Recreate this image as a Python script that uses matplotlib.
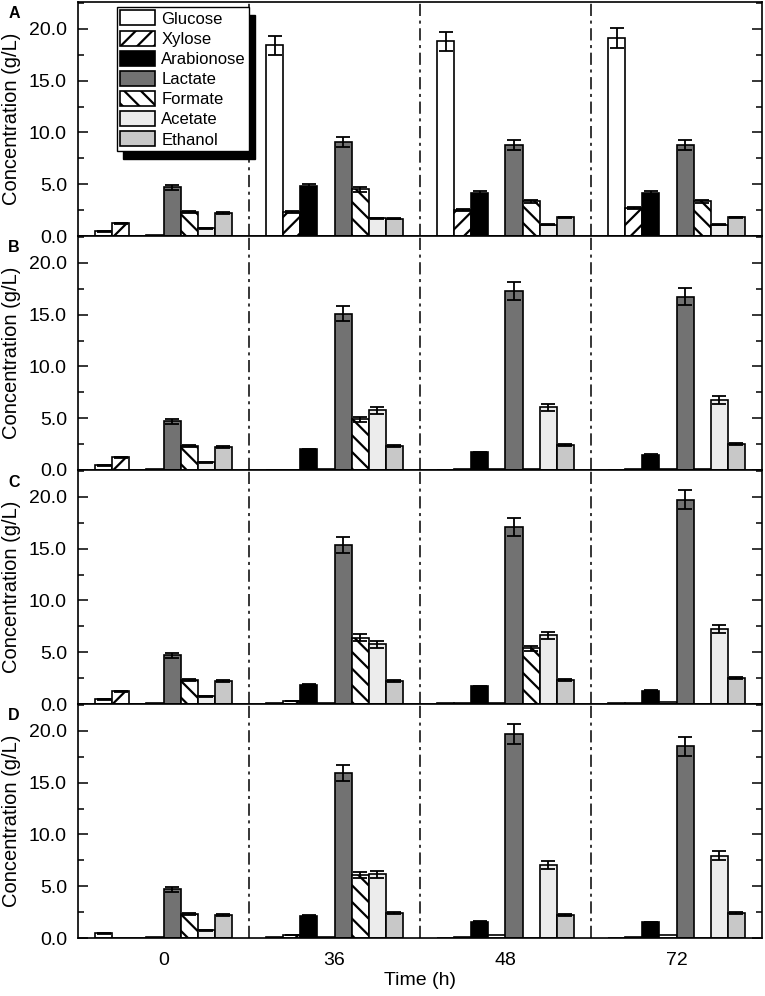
import numpy as np
import matplotlib
matplotlib.use("Agg")
import matplotlib.pyplot as plt
from matplotlib.ticker import MultipleLocator, FormatStrFormatter

plt.rcParams['font.family'] = ['Liberation Sans', 'DejaVu Sans']
plt.rcParams['hatch.linewidth'] = 1.6

# time points (h) and panel letters
times = ['0', '36', '48', '72']
panels = ['A', 'B', 'C', 'D']

# concentrations (g/L), one row per panel A..D, columns = time points
glucose = [[0.45, 18.4, 18.8, 19.1],
           [0.45, 0.0, 0.03, 0.0],
           [0.45, 0.12, 0.05, 0.05],
           [0.45, 0.05, 0.0, 0.0]]
glucose_err = [[0.03, 0.9, 0.9, 0.95], [0.03, 0, 0, 0], [0.03, 0, 0, 0], [0.03, 0, 0, 0]]

xylose = [[1.25, 2.35, 2.5, 2.7],
          [1.25, 0.0, 0.05, 0.05],
          [1.25, 0.3, 0.05, 0.05],
          [0.0, 0.3, 0.05, 0.05]]
xylose_err = [[0.05, 0.1, 0.1, 0.1], [0.05, 0, 0, 0], [0.05, 0.03, 0, 0], [0, 0.03, 0, 0]]

arabinose = [[0.0, 4.85, 4.15, 4.15],
             [0.0, 2.0, 1.7, 1.45],
             [0.0, 1.85, 1.7, 1.3],
             [0.0, 2.15, 1.55, 1.5]]
arabinose_err = [[0, 0.15, 0.15, 0.15], [0, 0.05, 0.05, 0.05], [0, 0.05, 0.05, 0.05], [0, 0.05, 0.05, 0.05]]

# unlabelled series drawn between arabinose and lactate
other = [[0.05, 0.0, 0.0, 0.0],
         [0.05, 0.05, 0.1, 0.1],
         [0.05, 0.1, 0.1, 0.15],
         [0.05, 0.1, 0.25, 0.25]]

lactate = [[4.7, 9.05, 8.8, 8.8],
           [4.7, 15.1, 17.3, 16.75],
           [4.7, 15.35, 17.1, 19.75],
           [4.7, 15.95, 19.7, 18.5]]
lactate_err = [[0.25, 0.5, 0.45, 0.45],
               [0.25, 0.75, 0.9, 0.85],
               [0.25, 0.8, 0.85, 0.95],
               [0.25, 0.8, 1.0, 0.95]]

formate = [[2.3, 4.5, 3.35, 3.35],
           [2.3, 4.9, 0.05, 0.05],
           [2.3, 6.4, 5.4, 0.0],
           [2.3, 6.1, 0.0, 0.0]]
formate_err = [[0.1, 0.25, 0.15, 0.15],
               [0.1, 0.25, 0, 0],
               [0.1, 0.35, 0.25, 0],
               [0.1, 0.32, 0, 0]]

acetate = [[0.75, 1.7, 1.1, 1.1],
           [0.75, 5.75, 6.05, 6.8],
           [0.75, 5.75, 6.65, 7.25],
           [0.75, 6.15, 7.05, 7.95]]
acetate_err = [[0.05, 0.05, 0.05, 0.05],
               [0.05, 0.3, 0.35, 0.38],
               [0.05, 0.3, 0.35, 0.37],
               [0.05, 0.32, 0.35, 0.43]]

ethanol = [[2.2, 1.65, 1.8, 1.8],
           [2.2, 2.3, 2.4, 2.55],
           [2.2, 2.25, 2.3, 2.55],
           [2.2, 2.4, 2.2, 2.4]]
ethanol_err = [[0.1, 0.05, 0.08, 0.08],
               [0.1, 0.1, 0.1, 0.1],
               [0.1, 0.1, 0.1, 0.1],
               [0.1, 0.1, 0.1, 0.1]]

# (label, values, errors, facecolor, hatch, slot)
series = [
    ("Glucose", glucose, glucose_err, "white", None, 0),
    ("Xylose", xylose, xylose_err, "white", "//", 1),
    ("Arabionose", arabinose, arabinose_err, "black", None, 2),
    (None, other, None, "white", None, 3),
    ("Lactate", lactate, lactate_err, "#727272", None, 4),
    ("Formate", formate, formate_err, "white", "\\\\", 5),
    ("Acetate", acetate, acetate_err, "#ececec", None, 6),
    ("Ethanol", ethanol, ethanol_err, "#c8c8c8", None, 7),
]

fig = plt.figure(figsize=(7.65, 9.96), dpi=100)
W, H = 765, 996
ax_left, ax_right = 78, 762
tops = [2, 236, 470, 704]
ph = 234

x = np.arange(len(times))
w = 0.1
axes = []
for p, letter in enumerate(panels):
    ax = fig.add_axes([ax_left / W, 1 - (tops[p] + ph) / H, (ax_right - ax_left) / W, ph / H])
    axes.append(ax)
    handles = []
    for label, vals, errs, fc, hatch, slot in series:
        pos = x + (slot - 3.5) * w
        bars = ax.bar(pos, vals[p], width=w, color=fc, edgecolor="black",
                      linewidth=1.2, hatch=hatch, zorder=2)
        if errs is not None:
            e = np.array(errs[p])
            m = e > 0
            ax.errorbar(pos[m], np.array(vals[p])[m], yerr=e[m], fmt="none",
                        ecolor="black", elinewidth=1.3, capsize=5, capthick=1.3, zorder=3)
        if label:
            handles.append((bars, label))
    for sep in x[:-1] + 0.5:
        ax.axvline(sep, color="black", lw=1.1, linestyle=(0, (8, 3, 2, 3)), zorder=1)
    ax.set_xlim(-0.5, 3.5)
    ax.set_ylim(0, 22.6)
    ax.yaxis.set_major_locator(MultipleLocator(5))
    ax.yaxis.set_minor_locator(MultipleLocator(2.5))
    ax.yaxis.set_major_formatter(FormatStrFormatter("%.1f"))
    ax.tick_params(axis="y", which="both", direction="in", right=True, labelsize=14, pad=8)
    ax.tick_params(axis="y", which="major", length=7, width=1.1)
    ax.tick_params(axis="y", which="minor", length=4, width=1.1)
    ax.set_xticks(x)
    ax.tick_params(axis="x", length=0, labelsize=14, pad=10)
    if p < 3:
        ax.set_xticklabels([])
    else:
        ax.set_xticklabels(times)
        ax.set_xlabel("Time (h)", fontsize=14, labelpad=2)
    for s in ax.spines.values():
        s.set_linewidth(1.2)
    ax.set_ylabel("Concentration (g/L)", fontsize=14.5)
    ax.yaxis.set_label_coords(-0.083, 0.5)
    fig.text(14 / W, 1 - (tops[p] + 12) / H, letter, fontsize=11.5, fontweight="bold",
             ha="center", va="center")
    if p == 0:
        leg = ax.legend([h for h, _ in handles], [l for _, l in handles],
                        loc="upper left", bbox_to_anchor=(0.057, 0.978),
                        borderaxespad=0, fontsize=12, fancybox=False, framealpha=1,
                        edgecolor="black", handlelength=2.1, handleheight=1.0,
                        handletextpad=0.35, labelspacing=0.24, borderpad=0.2,
                        shadow={"ox": 4.5, "oy": -5.5, "color": "black", "alpha": 1.0})
        leg.get_frame().set_linewidth(1.0)
        leg.set_zorder(5)

fig.savefig("out.png", dpi=100)
